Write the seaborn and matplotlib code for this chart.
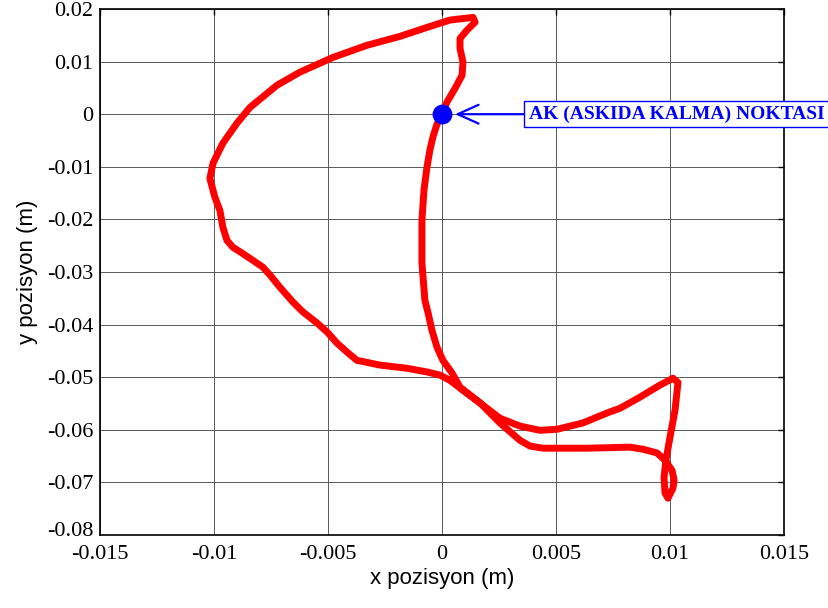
import matplotlib
matplotlib.use("Agg")
import matplotlib.pyplot as plt
import matplotlib.transforms as mtransforms
import seaborn as sns
import pandas as pd

# trajectory (m), in drawing order
x_pos = [0.0, 0.00022, 0.00057, 0.00088, 0.00092, 0.00079, 0.00079, 0.0011, 0.00145, 0.00136,
         0.00035, -0.00066, -0.00184, -0.00329, -0.00478, -0.00623, -0.00724, -0.00842, -0.00899,
         -0.00961, -0.01004, -0.01018, -0.01009, -0.00996, -0.00974, -0.00961, -0.00943, -0.00917,
         -0.00877, -0.00829, -0.00785, -0.00754, -0.00711, -0.00654, -0.0061, -0.00548, -0.00504,
         -0.00461, -0.00412, -0.00373, -0.00316, -0.00272, -0.00154, -0.00066, -0.00009, 0.00035,
         0.00092, 0.00167, 0.00254, 0.00342, 0.0043, 0.00504, 0.00618, 0.00724, 0.00781, 0.00868,
         0.00956, 0.01013, 0.01035, 0.01022, 0.0100, 0.00982, 0.00974, 0.00978, 0.00991, 0.01013,
         0.01018, 0.01009, 0.00978, 0.00943, 0.00882, 0.00825, 0.00636, 0.00443, 0.00386, 0.00342,
         0.00254, 0.00167, 0.00079, 0.00044, 0.00004, -0.00022, -0.00044, -0.00061, -0.00075,
         -0.00088, -0.00088, -0.00079, -0.00066, -0.00053, -0.00039, -0.00022, 0.0]
y_pos = [0.0, 0.0023, 0.0049, 0.0074, 0.0099, 0.0125, 0.0144, 0.0160, 0.0175, 0.0184,
         0.0179, 0.0165, 0.0148, 0.0131, 0.0108, 0.0080, 0.0055, 0.0013, -0.0017,
         -0.0055, -0.0093, -0.0122, -0.0137, -0.0158, -0.0183, -0.0215, -0.0240, -0.0253,
         -0.0264, -0.0278, -0.0291, -0.0306, -0.0329, -0.0357, -0.0376, -0.0397, -0.0414,
         -0.0435, -0.0454, -0.0468, -0.0473, -0.0477, -0.0483, -0.0490, -0.0496, -0.0506,
         -0.0525, -0.0549, -0.0578, -0.0593, -0.0601, -0.0599, -0.0587, -0.0568, -0.0559, -0.0538,
         -0.0515, -0.0502, -0.0510, -0.0563, -0.0614, -0.0658, -0.0690, -0.0720, -0.0730, -0.0711,
         -0.0696, -0.0677, -0.0658, -0.0644, -0.0637, -0.0633, -0.0635, -0.0635, -0.0631, -0.0620,
         -0.0587, -0.0549, -0.0519, -0.0492, -0.0468, -0.0443, -0.0411, -0.0378, -0.0354,
         -0.0283, -0.0202, -0.0144, -0.0101, -0.0068, -0.0042, -0.0019, 0.0]

ak_x = [0.0]
ak_y = [0.0]
ak_label = "AK (ASKIDA KALMA) NOKTASI"

x_ticks = [-0.015, -0.01, -0.005, 0, 0.005, 0.01, 0.015]
x_ticklabels = ["-0.015", "-0.01", "-0.005", "0", "0.005", "0.01", "0.015"]
y_ticks = [0.02, 0.01, 0, -0.01, -0.02, -0.03, -0.04, -0.05, -0.06, -0.07, -0.08]
y_ticklabels = ["0.02", "0.01", "0", "-0.01", "-0.02", "-0.03", "-0.04", "-0.05", "-0.06", "-0.07", "-0.08"]

sns.set_theme(style="white")
plt.rcParams["font.family"] = ["Liberation Sans", "DejaVu Sans"]

fig = plt.figure(figsize=(8.29, 6.08), dpi=100)
ax = fig.add_axes([100 / 829, 1 - 535 / 608, 684 / 829, 526 / 608])

df = pd.DataFrame({"x": x_pos, "y": y_pos})
sns.lineplot(data=df, x="x", y="y", sort=False, estimator=None, color="red",
             lw=5, ax=ax, zorder=3)
for ln in ax.lines:
    ln.set_solid_capstyle("round")
    ln.set_solid_joinstyle("round")
sns.scatterplot(x=ak_x, y=ak_y, color="blue", s=175, edgecolor="blue", ax=ax, zorder=4)

ax.annotate(ak_label, xy=(0.00057, 0.0), xytext=(0.0038, 0.0), textcoords="data",
            ha="left", va="center", color="blue", fontsize=14, fontweight="bold",
            family=["Liberation Serif", "DejaVu Serif"], annotation_clip=False,
            bbox=dict(boxstyle="square,pad=0.22", fc="white", ec="blue", lw=1),
            arrowprops=dict(arrowstyle="->,head_length=1.0,head_width=0.45", color="blue",
                            lw=1.6, shrinkA=0, shrinkB=0, mutation_scale=15),
            zorder=5)

ax.set_xlim(-0.015, 0.015)
ax.set_ylim(-0.08, 0.02)
ax.set_xticks(x_ticks)
ax.set_xticklabels(x_ticklabels, family=["Liberation Serif"], fontsize=16)
ax.set_yticks(y_ticks)
ax.set_yticklabels(y_ticklabels, family=["Liberation Serif"], fontsize=16)
ax.tick_params(direction="in", length=4, width=1, top=True, right=True, color="black",
               labelcolor="black", pad=5)
ax.tick_params(axis="x", pad=7)
ax.grid(True, color="0.35", lw=0.7, zorder=0)
ax.set_axisbelow(True)
for s in ax.spines.values():
    s.set_color("black")
    s.set_linewidth(1.2)

# lift the lowest y tick label a little so it does not run into "-0.015"
lab = ax.get_yticklabels()[-1]
lab.set_transform(lab.get_transform() + mtransforms.ScaledTranslation(0, 4 / 72, fig.dpi_scale_trans))

ax.set_xlabel("x pozisyon (m)", fontsize=16, color="black", labelpad=3)
ax.set_ylabel("y pozisyon (m)", fontsize=16, color="black", labelpad=6)

fig.savefig("out.png", dpi=100, facecolor="white")
